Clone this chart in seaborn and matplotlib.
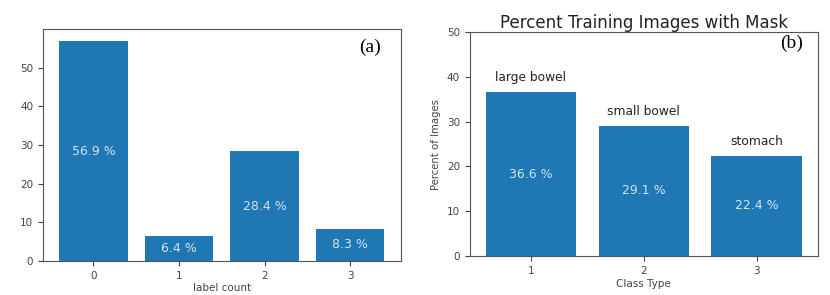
import matplotlib
matplotlib.use('Agg')
import matplotlib.pyplot as plt
import pandas as pd
import seaborn as sns

# panel (a): share of images by number of labels
label_counts = ['0', '1', '2', '3']
label_pct = [56.9, 6.4, 28.4, 8.3]

# panel (b): percent of training images with each class mask
class_types = ['1', '2', '3']
class_names = ['large bowel', 'small bowel', 'stomach']
class_pct = [36.6, 29.1, 22.4]

BAR_COLOR = '#1f77b4'
INSIDE_COLOR = '#d4e2f0'
TICK_COLOR = '#444444'

plt.rcParams['font.family'] = ['DejaVu Sans']
plt.rcParams['axes.edgecolor'] = '#555555'
plt.rcParams['xtick.color'] = TICK_COLOR
plt.rcParams['ytick.color'] = TICK_COLOR
plt.rcParams['xtick.labelsize'] = 7.5
plt.rcParams['ytick.labelsize'] = 7.5

fig = plt.figure(figsize=(8.3, 2.95), dpi=100)
ax_a = fig.add_axes([0.0518, 0.1153, 0.431, 0.786])
ax_b = fig.add_axes([0.566, 0.1322, 0.419, 0.759])

df_a = pd.DataFrame({'label count': label_counts, 'pct': label_pct})
sns.barplot(data=df_a, x='label count', y='pct', color=BAR_COLOR,
            saturation=1, width=0.8, ax=ax_a)
for i, v in enumerate(label_pct):
    ax_a.text(i, v / 2, '{} %'.format(v), ha='center', va='center',
              fontsize=9, color=INSIDE_COLOR)
ax_a.set_xlim(-0.59, 3.59)
ax_a.set_ylim(0, 60)
ax_a.set_yticks([0, 10, 20, 30, 40, 50])
ax_a.set_ylabel('')
ax_a.set_xlabel('label count', fontsize=7.5, color=TICK_COLOR, labelpad=2)
ax_a.text(0.944, 0.922, '(a)', transform=ax_a.transAxes, ha='right', va='center',
          fontsize=14, family='Liberation Serif', color='black')

df_b = pd.DataFrame({'Class Type': class_types, 'pct': class_pct})
sns.barplot(data=df_b, x='Class Type', y='pct', color=BAR_COLOR,
            saturation=1, width=0.8, ax=ax_b)
for i, (v, name) in enumerate(zip(class_pct, class_names)):
    ax_b.text(i, v / 2, '{} %'.format(v), ha='center', va='center',
              fontsize=9, color=INSIDE_COLOR)
    ax_b.text(i, v + 1.8, name, ha='center', va='bottom',
              fontsize=8.8, color='#222222')
ax_b.set_xlim(-0.54, 2.54)
ax_b.set_ylim(0, 50)
ax_b.set_yticks([0, 10, 20, 30, 40, 50])
ax_b.set_ylabel('Percent of Images', fontsize=7.3, color=TICK_COLOR)
ax_b.set_xlabel('Class Type', fontsize=7.5, color=TICK_COLOR, labelpad=2)
ax_b.set_title('Percent Training Images with Mask', fontsize=12,
               color='#222222', pad=3)
ax_b.text(0.957, 0.951, '(b)', transform=ax_b.transAxes, ha='right', va='center',
          fontsize=14, family='Liberation Serif', color='black')

fig.savefig('out.png', dpi=100)
